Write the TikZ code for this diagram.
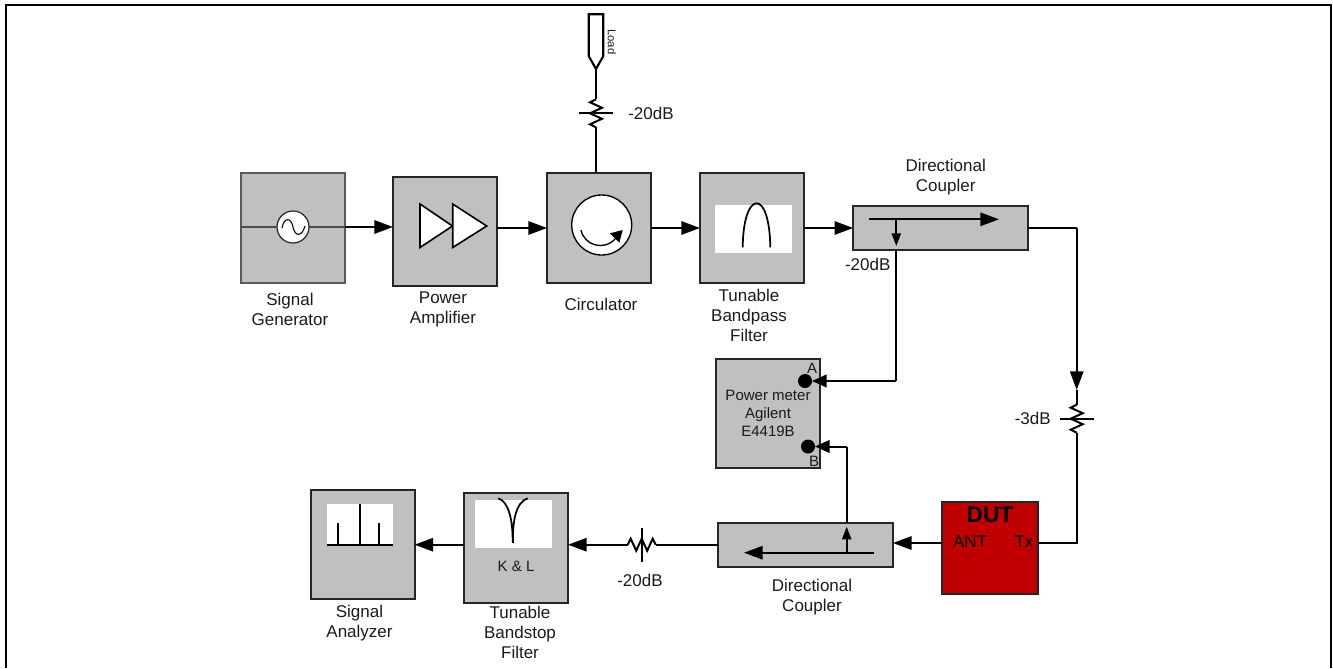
\documentclass[tikz,border=0pt]{standalone}
\usepackage{fontspec}
\setmainfont{Liberation Sans}
\usetikzlibrary{arrows.meta}
\definecolor{boxgray}{HTML}{C0C0C0}
\definecolor{dutred}{HTML}{C00000}
\definecolor{txt}{HTML}{1A1A1A}
\tikzset{
  wire/.style={line width=1.5pt,black},
  big/.style={wire,-{Triangle[length=14pt,width=10pt]}},
  small/.style={wire,-{Triangle[length=9.5pt,width=6.8pt]}},
  box/.style={draw=black!85,line width=1.5pt,fill=boxgray,inner sep=0pt,outer sep=0pt},
  thinbox/.style={box,draw=black!65,line width=1pt},
  whitebox/.style={fill=white,inner sep=0pt,outer sep=0pt},
  lab/.style={inner sep=0pt,outer sep=0pt,align=center,text=txt,font=\fontsize{12.75}{15}\selectfont},
  smalllab/.style={lab,font=\fontsize{11.25}{13.7}\selectfont},
  port/.style={circle,fill=black,minimum size=10.5pt,inner sep=0pt,outer sep=0pt},
  pics/atten/.style n args={1}{code={
    \draw[wire,line join=miter] (-14,0) coordinate (-a) -- (-11,-6) -- (-5.5,6) -- (0,-6) -- (5.5,6) -- (11,-6) -- (14,0) coordinate (-b);
    \draw[wire] (0,-#1) -- (0,#1);
  }}
}
\begin{document}
\begin{tikzpicture}[x=.75pt,y=-.75pt]
\useasboundingbox (0,0) rectangle (1333,668);
\draw[line width=1.7pt] (6,668) -- (6,5) -- (1331,5) -- (1331,668);

% boxes
\node[thinbox,minimum width=78pt,minimum height=82.5pt] (sg) at (293,228) {};
\node[box,minimum width=78pt,minimum height=82pt] (pa) at (445,231.5) {};
\node[box,minimum width=78pt,minimum height=82.5pt] (circ) at (599,228) {};
\node[box,minimum width=78pt,minimum height=82.5pt] (bpf) at (752,228) {};
\node[box,minimum width=131pt,minimum height=33pt] (dca) at (940.5,228) {};
\node[box,minimum width=78pt,minimum height=82pt] (pm) at (768,413.5) {};
\node[box,minimum width=131pt,minimum height=33pt] (dcb) at (805.5,544.7) {};
\node[box,minimum width=78pt,minimum height=82pt] (sa) at (362.5,544.5) {};
\node[box,minimum width=78pt,minimum height=82pt] (bsf) at (516,548) {};
\node[box,fill=dutred,minimum width=72pt,minimum height=69pt] (dut) at (990,548) {};

% signal generator
\draw[line width=1pt,black!70] (sg.west |- 0,227) -- (sg.east |- 0,227);
\node[circle,draw=black!85,line width=.9pt,fill=white,minimum size=24pt,inner sep=0pt] (osc) at (293,227) {};
\draw[line width=.8pt] (282,228) .. controls (284,217) and (291,217) .. (293,227) .. controls (295,237) and (302,237) .. (305,226);

% amplifier
\draw[line width=1.2pt,fill=white] (420,204) -- (452.5,226) -- (420,247.5) -- cycle;
\draw[line width=1.2pt,fill=white] (452.7,204) -- (486.7,226) -- (452.7,247.5) -- cycle;

% circulator
\node[circle,draw=black,line width=1pt,fill=white,minimum size=45pt,inner sep=0pt] (circring) at (601.7,225) {};
\draw[line width=1pt] (581,230) .. controls (584,245) and (604,252) .. (616,238);
\fill (622.7,230) -- (610,233.3) -- (619.3,242.7) -- cycle;

% bandpass
\node[whitebox,minimum width=57.75pt,minimum height=36pt] (bpfw) at (753.5,229) {};
\draw[line width=1.3pt] (742.7,247.3) .. controls (743,220) and (749,203.3) .. (756.7,203.3) .. controls (764,203.3) and (770,220) .. (770.3,247.3);

% signal analyser screen
\node[whitebox,minimum width=49.5pt,minimum height=31pt] (saw) at (360,524.5) {};
\draw[wire] (327,544.7) -- (393,544.7);
\draw[wire] (338,544.7) -- (338,523);
\draw[wire] (360,544.7) -- (360,504);
\draw[wire] (379,544.7) -- (379,523);

% bandstop screen
\node[whitebox,minimum width=57.75pt,minimum height=36pt] (bsfw) at (513.5,524) {};
\draw[line width=1.3pt] (498.3,498.3) .. controls (509,502) and (512.7,520) .. (512.7,542.7) .. controls (512.7,520) and (516,502) .. (527.7,498.3);
\draw[line width=1.5pt] (512.7,542.7) -- (512.7,530);

% main chain connectors
\draw[big] (sg.east |- 0,227) -- (pa.west |- 0,227);
\draw[big] (pa.east |- 0,228) -- (circ.west);
\draw[big] (circ.east) -- (bpf.west);
\draw[big] (bpf.east) -- (dca.west);

% load and attenuator
\coordinate (loadtip) at (596,69);
\draw[line width=1.6pt,line join=miter,fill=white] (588.7,14.3) -- (603.3,14.3) -- (603.3,56) -- (loadtip) -- (588.7,56) -- cycle;
\pic (ta) at (596,113.3) [rotate=90] {atten={17}};
\draw[wire] (circ.north -| loadtip) -- (ta-a);
\draw[wire] (ta-b) -- (loadtip);
\node[lab,rotate=-90,font=\fontsize{8.5}{10}\selectfont] (loadl) at (612,41.7) {Load};
\node[lab] (tal) at (651,113) {-20dB};

% coupler one
\coordinate (dcaS) at (869,219.3);
\coordinate (dcaE) at (999,219.3);
\coordinate (dcaT) at (896.3,219.3);
\coordinate (dcaD) at (896.3,246);
\draw[big] (dcaS) -- (dcaE);
\draw[small] (dcaT) -- (dcaD);
\node[lab] (dcal) at (945.7,177.5) {Directional\\Coupler};
\node[lab] (dcadb) at (867.7,264) {-20dB};

% power meter
\node[port] (pa1) at (805,381) {};
\node[port] (pb1) at (808,446.5) {};
\node[smalllab] (pml) at (768,413.5) {Power meter\\Agilent\\E4419B};
\node[smalllab] (pal) at (812,368) {A};
\node[smalllab] (pbl) at (814,461) {B};
\draw[wire] (dca.south -| dcaT) -- (896.3,381) coordinate (cA);
\draw[wire,-{Triangle[length=11pt,width=9.5pt]}] (cA) -- (pa1.east);

% right-hand path
\pic (tb) at (1076.7,418.7) [rotate=90] {atten={17}};
\coordinate (dcaCorner) at (1076.7,227.7);
\draw[wire] (dca.east |- dcaCorner) -- (dcaCorner);
\draw[big] (dcaCorner) -- (1076.7,390) coordinate (tbin);
\draw[wire] (tbin) -- (tb-b);
\draw[wire] (tb-a) -- (1076.7,543) coordinate (txc) -- (dut.east |- txc);
\node[lab] (tbl) at (1032.7,418) {-3dB};

% DUT
\node[lab,text=black,font=\bfseries\fontsize{17}{20}\selectfont] (dutl) at (990,515) {DUT};
\node[lab,text=black] (antl) at (970,542) {ANT};
\node[lab,text=black] (txl) at (1024,542) {Tx};
\draw[big] (dut.west |- 0,543) -- (dcb.east |- 0,543);

% coupler two
\coordinate (dcbS) at (874,552.7);
\coordinate (dcbE) at (744,552.7);
\coordinate (dcbT) at (846.7,552.7);
\coordinate (dcbU) at (846.7,526.7);
\draw[big] (dcbS) -- (dcbE);
\draw[small] (dcbT) -- (dcbU);
\node[lab] (dcbl) at (812,597.5) {Directional\\Coupler};
\draw[wire] (dcb.north -| dcbT) -- (846.7,446.5) coordinate (cB);
\draw[wire,-{Triangle[length=11pt,width=9.5pt]}] (cB) -- (pb1.east);

% lower chain
\pic (tc) at (641.7,544.7) {atten={17}};
\draw[wire] (dcb.west) -- (tc-b);
\draw[big] (tc-a) -- (bsf.east |- tc-a);
\draw[big] (bsf.west |- tc-a) -- (sa.east |- tc-a);
\node[lab] (tcl) at (640,580.7) {-20dB};

% labels
\node[lab] (sgl) at (290,309) {Signal\\Generator};
\node[lab] (pal2) at (443,309) {Power\\Amplifier};
\node[lab] (cil) at (601,304) {Circulator};
\node[lab] (bpl) at (749,315) {Tunable\\Bandpass\\Filter};
\node[lab] (sal) at (359.5,623) {Signal\\Analyzer};
\node[lab] (bsl) at (520,632) {Tunable\\Bandstop\\Filter};
\node[smalllab] (kl) at (516,566) {K \& L};
\end{tikzpicture}
\end{document}
